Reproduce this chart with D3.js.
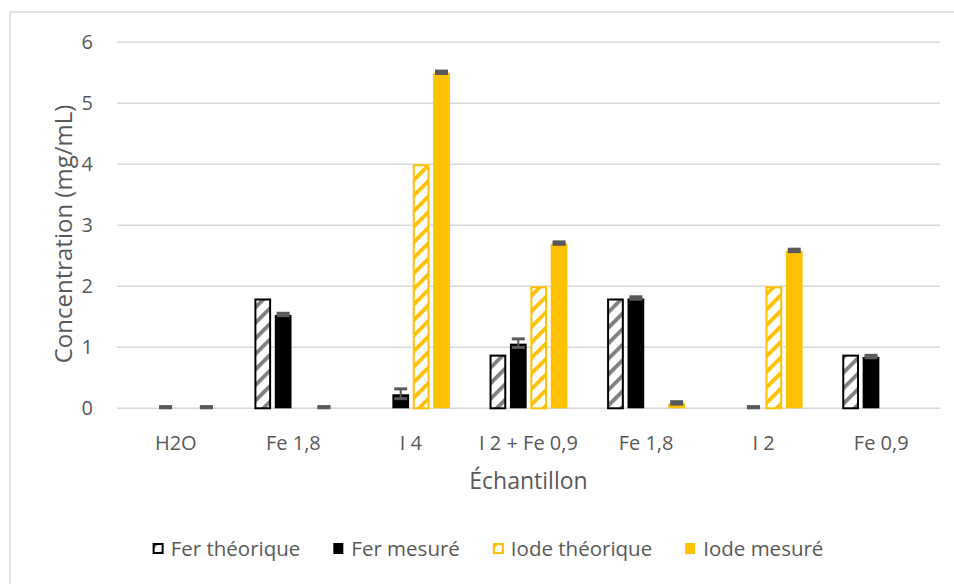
<!doctype html>
<html>
<head>
<meta charset="utf-8">
<script src="https://d3js.org/d3.v7.min.js"></script>
<style>
  body{ margin:0; background:#fff; }
  text{ font-family: "Open Sans", Lato, sans-serif; fill:#595959; }
  line.grid{ stroke:#d9d9d9; stroke-width:1.5px; }
  line.err{ stroke:#595959; }
</style>
</head>
<body>
<svg id="chart" width="954" height="584"></svg>
<script>
// samples (x axis)
var categories = ['H2O','Fe 1,8','I 4','I 2 + Fe 0,9','Fe 1,8','I 2','Fe 0,9'];
var yTicks = [0,1,2,3,4,5,6];
var seriesNames = ['Fer théorique','Fer mesuré','Iode théorique','Iode mesuré'];

// values in mg/mL
var ferTheo   = [0, 1.8, 0, 0.88, 1.8, 0, 0.88];
var ferMes    = [0, 1.53, 0.23, 1.06, 1.8, 0, 0.84];
var ferMesErr = [0.02, 0.02, 0.08, 0.07, 0.02, 0.02, 0.02];
var iodeTheo  = [0, 0, 4, 2, 0, 2, 0];
var iodeMes   = [0, 0, 5.5, 2.7, 0.08, 2.58, 0];
var iodeMesErr= [0.02, 0.02, 0.02, 0.02, 0.02, 0.02, null];

var values = [ferTheo, ferMes, iodeTheo, iodeMes];
var errors = [null, ferMesErr, null, iodeMesErr];

var svg = d3.select('#chart');
var plotL = 117, plotR = 940, plotT = 42.3, plotB = 408.3;

// hatch patterns
var defs = svg.append('defs');
function hatch(id, color){
  var p = defs.append('pattern').attr('id',id)
    .attr('patternUnits','userSpaceOnUse')
    .attr('width',11).attr('height',11)
    .attr('patternTransform','rotate(45)');
  p.append('rect').attr('width',11).attr('height',11).attr('fill','#fff');
  p.append('rect').attr('width',3.8).attr('height',11).attr('fill',color);
}
hatch('hatchFer','#7f7f7f');
hatch('hatchIode','#ffc000');

var fills   = ['url(#hatchFer)','#000','url(#hatchIode)','#ffc000'];
var strokes = ['#000',null,'#ffc000',null];

// outer frame
svg.append('rect').attr('x',10).attr('y',12).attr('width',1000).attr('height',1000)
  .attr('fill','none').attr('stroke','#d9d9d9').attr('stroke-width',1.5);

var x0 = d3.scaleBand().domain(d3.range(categories.length)).range([plotL,plotR]);
var x1 = d3.scaleBand().domain(d3.range(seriesNames.length)).range([-41,41])
  .paddingInner(0.18).paddingOuter(0.1);
var y = d3.scaleLinear().domain([0,6]).range([plotB,plotT]);

// gridlines
svg.selectAll('line.grid').data(yTicks).enter()
  .append('line').attr('class','grid')
  .attr('x1',plotL).attr('x2',plotR)
  .attr('y1',function(d){return y(d);}).attr('y2',function(d){return y(d);});

// y tick labels
svg.selectAll('text.ytick').data(yTicks).enter()
  .append('text').attr('class','ytick')
  .attr('x',93).attr('y',function(d){return y(d)+7;})
  .attr('text-anchor','end').style('font-size','20px')
  .text(function(d){return d;});

// x tick labels
svg.selectAll('text.xtick').data(categories).enter()
  .append('text').attr('class','xtick')
  .attr('x',function(d,i){return x0(i)+x0.bandwidth()/2;})
  .attr('y',450).attr('text-anchor','middle').style('font-size','20px')
  .text(function(d){return d;});

// bars (index kept so duplicated category names are fine)
seriesNames.forEach(function(name,s){
  var g = svg.append('g').attr('class','series');
  var bw = x1.bandwidth();
  values[s].forEach(function(v,i){
    if(!(v > 0)) return;
    var bx = x0(i)+x0.bandwidth()/2 + x1(s);
    var r = g.append('rect').attr('fill',fills[s]);
    if(strokes[s]){
      r.attr('x',bx+1).attr('width',bw-2)
       .attr('y',y(v)+1).attr('height',y(0)-y(v)-1)
       .attr('stroke',strokes[s]).attr('stroke-width',2);
    } else {
      r.attr('x',bx).attr('width',bw)
       .attr('y',y(v)).attr('height',y(0)-y(v));
    }
  });
});

// error bars
seriesNames.forEach(function(name,s){
  if(!errors[s]) return;
  var g = svg.append('g');
  errors[s].forEach(function(e,i){
    if(e == null) return;
    var v = values[s][i];
    var cx = x0(i)+x0.bandwidth()/2 + x1(s) + x1.bandwidth()/2;
    var lo = Math.max(0, v-e);
    g.append('line').attr('class','err')
      .attr('x1',cx).attr('x2',cx)
      .attr('y1',y(v+e)).attr('y2',y(lo)).style('stroke-width',2);
    [v+e, lo].forEach(function(t){
      g.append('line').attr('class','err')
        .attr('x1',cx-6.5).attr('x2',cx+6.5)
        .attr('y1',y(t)-0.5).attr('y2',y(t)-0.5).style('stroke-width',3);
    });
  });
});

// axis titles
svg.append('text').attr('x',528.5).attr('y',489)
  .attr('text-anchor','middle').style('font-size','23px')
  .text('Échantillon');
svg.append('text')
  .attr('transform','translate(72,234) rotate(-90)')
  .attr('text-anchor','middle').style('font-size','24px')
  .text('Concentration (mg/mL)');

// legend, centered under the plot
var legend = svg.append('g');
var lx = 0;
seriesNames.forEach(function(name,s){
  var it = legend.append('g').attr('transform','translate('+lx+',0)');
  var sw = it.append('rect').attr('x',0).attr('y',543)
    .attr('width',10).attr('height',11).attr('fill',fills[s]);
  if(strokes[s]) sw.attr('stroke',strokes[s]).attr('stroke-width',2)
    .attr('x',1).attr('y',544).attr('width',9).attr('height',9);
  var t = it.append('text').attr('x',18).attr('y',556)
    .style('font-size','20.5px').text(name);
  lx += 18 + t.node().getComputedTextLength() + 33;
});
var lw = lx - 33;
legend.attr('transform','translate('+(488 - lw/2)+',0)');
</script>
</body>
</html>
